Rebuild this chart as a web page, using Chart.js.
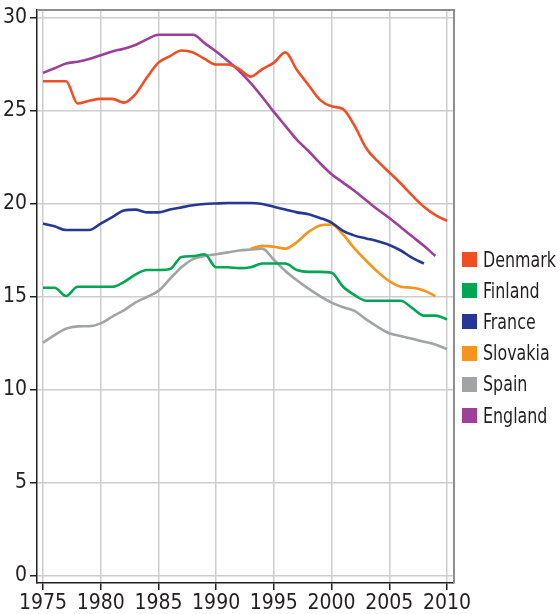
<!DOCTYPE html>
<html>
<head>
<meta charset="utf-8">
<script src="https://cdn.jsdelivr.net/npm/chart.js@4.4.1/dist/chart.umd.min.js"></script>
<style>
    html, body { margin: 0; padding: 0; background: #fff; }
    #wrap { position: relative; width: 560px; height: 614px; }
    #legend {
        position: absolute; left: 462px; top: 244px;
        font: 21px 'Liberation Sans Narrow', 'DejaVu Sans Condensed', sans-serif;
        color: #231f20;
    }
    .item { display: flex; align-items: center; height: 31.2px; white-space: nowrap; }
    .sw { width: 15px; height: 15px; margin-right: 6px; flex: none; }
    .lbl { display: inline-block; transform: scaleX(0.84); transform-origin: left center; }
</style>
</head>
<body>
<div id="wrap">
    <canvas id="chart" width="560" height="614"></canvas>
    <div id="legend"></div>
</div>
<script>
// Years on the x axis
const years = [];
for (let y = 1975; y <= 2010; y++) years.push(y);

const xTicks = [1975, 1980, 1985, 1990, 1995, 2000, 2005, 2010];
const yTicks = [0, 5, 10, 15, 20, 25, 30];

// Values, one per year (null = no data)
const denmark = [26.6, 26.6, 26.6, 25.4, 25.55, 25.65, 25.65, 25.45, 25.9, 26.8,
    27.6, 27.95, 28.25, 28.15, 27.8, 27.5, 27.5, 27.25, 26.85, 27.25,
    27.6, 28.15, 27.2, 26.4, 25.6, 25.25, 25.1, 24.2, 23.0, 22.3,
    21.7, 21.1, 20.45, 19.85, 19.4, 19.1];
const finland = [15.5, 15.5, 15.05, 15.55, 15.55, 15.55, 15.55, 15.8, 16.2, 16.45,
    16.45, 16.5, 17.15, 17.2, 17.3, 16.6, 16.6, 16.55, 16.6, 16.8,
    16.8, 16.8, 16.45, 16.35, 16.35, 16.3, 15.55, 15.1, 14.8, 14.8,
    14.8, 14.8, 14.4, 14.0, 14.0, 13.8];
const france = [18.95, 18.8, 18.6, 18.6, 18.6, 18.95, 19.3, 19.65, 19.7, 19.55,
    19.55, 19.7, 19.82, 19.93, 20.0, 20.03, 20.05, 20.05, 20.05, 20.0,
    19.85, 19.7, 19.55, 19.45, 19.25, 19.0, 18.55, 18.3, 18.15, 18.0,
    17.8, 17.5, 17.1, 16.8, null, null];
const slovakia = [null, null, null, null, null, null, null, null, null, null,
    null, null, null, null, null, null, null, null, 17.6, 17.75,
    17.7, 17.6, 17.95, 18.5, 18.85, 18.9, 18.35, 17.6, 16.95, 16.35,
    15.85, 15.55, 15.5, 15.35, 15.05, null];
const spain = [12.55, 12.95, 13.3, 13.42, 13.43, 13.58, 13.95, 14.28, 14.7, 15.0,
    15.33, 15.97, 16.6, 17.04, 17.2, 17.3, 17.4, 17.5, 17.55, 17.6,
    17.0, 16.4, 15.9, 15.45, 15.05, 14.7, 14.45, 14.25, 13.8, 13.4,
    13.05, 12.9, 12.75, 12.6, 12.45, 12.2];
const england = [27.05, 27.3, 27.55, 27.65, 27.8, 28.0, 28.2, 28.35, 28.55, 28.85,
    29.1, 29.1, 29.1, 29.1, 28.65, 28.2, 27.7, 27.15, 26.5, 25.75,
    24.95, 24.2, 23.45, 22.85, 22.2, 21.6, 21.15, 20.7, 20.2, 19.7,
    19.25, 18.75, 18.25, 17.75, 17.2, null];

const seriesNames = ['Denmark', 'Finland', 'France', 'Slovakia', 'Spain', 'England'];
const seriesValues = [denmark, finland, france, slovakia, spain, england];
const seriesColors = ['#f04e23', '#00a651', '#263893', '#f7941d', '#a1a3a5', '#9e3f98'];

const FONT = "'Liberation Sans Narrow', 'DejaVu Sans Condensed', sans-serif";
const INK = '#231f20';

// gray frame on the top and right of the plot
const framePlugin = {
    id: 'frame',
    beforeDatasetsDraw(chart) {
        const { ctx, chartArea: a } = chart;
        ctx.save();
        ctx.strokeStyle = '#8e8e8e';
        ctx.lineWidth = 2;
        ctx.beginPath();
        ctx.moveTo(a.left, a.top);
        ctx.lineTo(a.right, a.top);
        ctx.lineTo(a.right, a.bottom);
        ctx.stroke();
        ctx.restore();
    }
};

const datasets = seriesNames.map((name, i) => ({
    label: name,
    data: years.map((yr, j) => ({ x: yr, y: seriesValues[i][j] })),
    borderColor: seriesColors[i],
    backgroundColor: seriesColors[i],
    borderWidth: 2.6,
    pointRadius: 0,
    fill: false,
    cubicInterpolationMode: 'monotone'
}));

new Chart(document.getElementById('chart').getContext('2d'), {
    type: 'line',
    data: { datasets },
    plugins: [framePlugin],
    options: {
        responsive: false,
        animation: false,
        devicePixelRatio: 1,
        layout: { padding: { top: 10, right: 106, left: 0, bottom: 0 } },
        plugins: { legend: { display: false }, tooltip: { enabled: false } },
        scales: {
            x: {
                type: 'linear',
                min: 1974.48,
                max: 2010.61,
                afterBuildTicks: (scale) => { scale.ticks = xTicks.map(v => ({ value: v })); },
                afterFit: (scale) => { scale.height = 31; scale.paddingLeft = 0; scale.paddingRight = 0; },
                grid: { color: '#cdcdcd', lineWidth: 1.5, tickColor: INK, tickLength: 7 },
                border: { color: INK, width: 1.5 },
                ticks: {
                    color: INK,
                    padding: 1,
                    maxRotation: 0,
                    font: { family: FONT, size: 21 },
                    callback: (v) => String(v)
                }
            },
            y: {
                type: 'linear',
                min: -0.376,
                max: 30.43,
                afterBuildTicks: (scale) => { scale.ticks = yTicks.map(v => ({ value: v })); },
                afterFit: (scale) => { scale.width = 37; scale.paddingTop = 0; scale.paddingBottom = 0; },
                grid: { color: '#cdcdcd', lineWidth: 1.5, tickColor: INK, tickLength: 7 },
                border: { color: INK, width: 1.5 },
                ticks: {
                    color: INK,
                    padding: 3,
                    font: { family: FONT, size: 21 },
                    callback: (v) => String(v)
                }
            }
        }
    }
});

// legend
const legend = document.getElementById('legend');
seriesNames.forEach((name, i) => {
    const item = document.createElement('div');
    item.className = 'item';
    item.innerHTML = `<span class="sw" style="background:${seriesColors[i]}"></span><span class="lbl">${name}</span>`;
    legend.appendChild(item);
});
</script>
</body>
</html>
